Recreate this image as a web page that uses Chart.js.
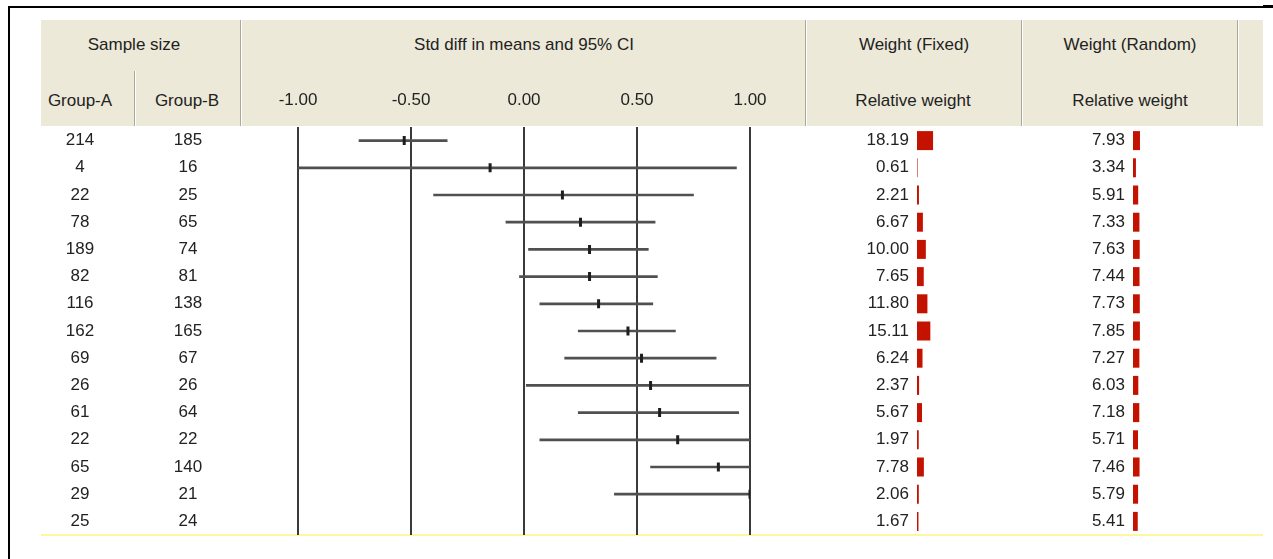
<!DOCTYPE html>
<html><head><meta charset="utf-8">
<script src="https://cdn.jsdelivr.net/npm/chart.js@4.4.1/dist/chart.umd.min.js"></script>
<style>
html,body{margin:0;padding:0;background:#fff;}
#wrap{position:relative;width:1273px;height:559px;overflow:hidden;background:#fff;font-family:"Liberation Sans",Arial,sans-serif;font-size:17px;color:#222;}
.abs{position:absolute;}
.hdr{left:41px;top:20px;width:1222px;height:106px;background:#ECE9D8;}
.sep{width:1px;background:#ACA899;border-right:1px solid #fff;}
.t{position:absolute;white-space:nowrap;transform:translate(-50%,-50%);line-height:1;}
canvas{position:absolute;}
</style></head><body>
<div id="wrap">
 <div class="abs hdr"></div>
 <div class="abs sep" style="left:134px;top:71px;height:55px"></div>
 <div class="abs sep" style="left:240px;top:20px;height:106px"></div>
 <div class="abs sep" style="left:805px;top:20px;height:106px"></div>
 <div class="abs sep" style="left:1021px;top:20px;height:106px"></div>
 <div class="abs sep" style="left:1237px;top:20px;height:106px"></div>
 <div class="t" style="left:134px;top:44px">Sample size</div>
 <div class="t" style="left:80px;top:100px">Group-A</div>
 <div class="t" style="left:187px;top:100px">Group-B</div>
 <div class="t" style="left:524px;top:44px">Std diff in means and 95% CI</div>
 <div class="t" style="left:914px;top:44px">Weight (Fixed)</div>
 <div class="t" style="left:913px;top:100px">Relative weight</div>
 <div class="t" style="left:1130px;top:44px">Weight (Random)</div>
 <div class="t" style="left:1130px;top:100px">Relative weight</div>
 <div class="abs" style="left:8px;top:6px;width:1255px;height:2px;background:#000"></div>
 <div class="abs" style="left:1263px;top:5px;width:10px;height:3px;background:#000"></div>
 <div class="abs" style="left:8px;top:6px;width:2px;height:553px;background:#000"></div>
 <div class="abs" style="left:41px;top:534px;width:1222px;height:2px;background:#FFF6A0"></div>
 <canvas id="main" width="1273" height="559" style="left:0;top:0"></canvas>
 <canvas id="wf" width="170" height="408" style="left:830px;top:127px"></canvas>
 <canvas id="wr" width="170" height="408" style="left:1050px;top:127px"></canvas>
</div>
<script>
const rows = ['1','2','3','4','5','6','7','8','9','10','11','12','13','14','15'];
const groupA = [214,4,22,78,189,82,116,162,69,26,61,22,65,29,25];
const groupB = [185,16,25,65,74,81,138,165,67,26,64,22,140,21,24];
const stdDiff = [-0.53,-0.15,0.17,0.25,0.29,0.29,0.33,0.46,0.52,0.56,0.60,0.68,0.86,1.00,1.74];
const ciLower = [-0.73,-1.23,-0.40,-0.08,0.02,-0.02,0.07,0.24,0.18,0.01,0.24,0.07,0.56,0.40,1.08];
const ciUpper = [-0.34,0.94,0.75,0.58,0.55,0.59,0.57,0.67,0.85,1.11,0.95,1.29,1.17,1.58,2.40];
const weightFixed = [18.19,0.61,2.21,6.67,10.00,7.65,11.80,15.11,6.24,2.37,5.67,1.97,7.78,2.06,1.67];
const weightRandom = [7.93,3.34,5.91,7.33,7.63,7.44,7.73,7.85,7.27,6.03,7.18,5.71,7.46,5.79,5.41];
const effectTicks = [-1, -0.5, 0, 0.5, 1];

Chart.defaults.font.family = '"Liberation Sans", Arial, sans-serif';
Chart.defaults.font.size = 17;
Chart.defaults.color = '#222';

const textColor = '#222';

const sampleTextPlugin = {
  id: 'sampleText',
  afterDraw(chart) {
    const ctx = chart.ctx, y = chart.scales.y;
    ctx.save();
    ctx.font = '17px "Liberation Sans", Arial, sans-serif';
    ctx.fillStyle = textColor;
    ctx.textAlign = 'center';
    ctx.textBaseline = 'middle';
    rows.forEach((r, i) => {
      const py = y.getPixelForValue(i);
      ctx.fillText(String(groupA[i]), 80, py);
      ctx.fillText(String(groupB[i]), 188, py);
    });
    ctx.restore();
  }
};

new Chart(document.getElementById('main'), {
  data: {
    labels: rows,
    datasets: [
      {
        type: 'bar',
        data: rows.map((r, i) => [ciLower[i], ciUpper[i]]),
        backgroundColor: '#505050',
        barThickness: 2,
        borderSkipped: false,
        order: 2
      },
      {
        type: 'line',
        data: stdDiff,
        showLine: false,
        pointStyle: 'line',
        pointRotation: 90,
        pointRadius: 4.5,
        pointBorderWidth: 3,
        pointBorderColor: '#1e1e1e',
        pointBackgroundColor: '#1e1e1e',
        order: 1
      }
    ]
  },
  options: {
    indexAxis: 'y',
    responsive: false,
    animation: false,
    events: [],
    layout: { padding: { left: 298, right: 523, top: 20, bottom: 24 } },
    plugins: { legend: { display: false }, tooltip: { enabled: false } },
    scales: {
      x: {
        type: 'linear',
        position: 'top',
        min: -1, max: 1,
        afterBuildTicks: s => { s.ticks = effectTicks.map(v => ({ value: v })); },
        afterFit: s => { s.height = 107; },
        ticks: {
          padding: 16,
          maxRotation: 0,
          color: textColor,
          font: { size: 17 },
          callback: v => Number(v).toFixed(2)
        },
        grid: { color: '#3a3a3a', lineWidth: 2, drawTicks: false },
        border: { display: false }
      },
      y: {
        type: 'category',
        offset: true,
        display: false
      }
    }
  },
  plugins: [sampleTextPlugin]
});

function weightChart(id, values, axisMax, padLeft) {
  const labelPlugin = {
    id: 'wlabels_' + id,
    afterDatasetsDraw(chart) {
      const ctx = chart.ctx, y = chart.scales.y;
      ctx.save();
      ctx.font = '17px "Liberation Sans", Arial, sans-serif';
      ctx.fillStyle = textColor;
      ctx.textAlign = 'right';
      ctx.textBaseline = 'middle';
      values.forEach((v, i) => {
        ctx.fillText(v.toFixed(2), chart.chartArea.left - 8, y.getPixelForValue(i));
      });
      ctx.restore();
    }
  };
  return new Chart(document.getElementById(id), {
    type: 'bar',
    data: {
      labels: rows,
      datasets: [{ data: values, backgroundColor: '#C41200', barThickness: 19, borderSkipped: false, inflateAmount: 0 }]
    },
    options: {
      indexAxis: 'y',
      responsive: false,
      animation: false,
      events: [],
      layout: { padding: { left: padLeft, right: 0, top: 0, bottom: 0 } },
      plugins: { legend: { display: false }, tooltip: { enabled: false } },
      scales: {
        x: { type: 'linear', min: 0, max: axisMax, display: false },
        y: { type: 'category', offset: true, display: false }
      }
    },
    plugins: [labelPlugin]
  });
}
weightChart('wf', weightFixed, 94, 87);
weightChart('wr', weightRandom, 99, 83);
</script>
</body></html>
